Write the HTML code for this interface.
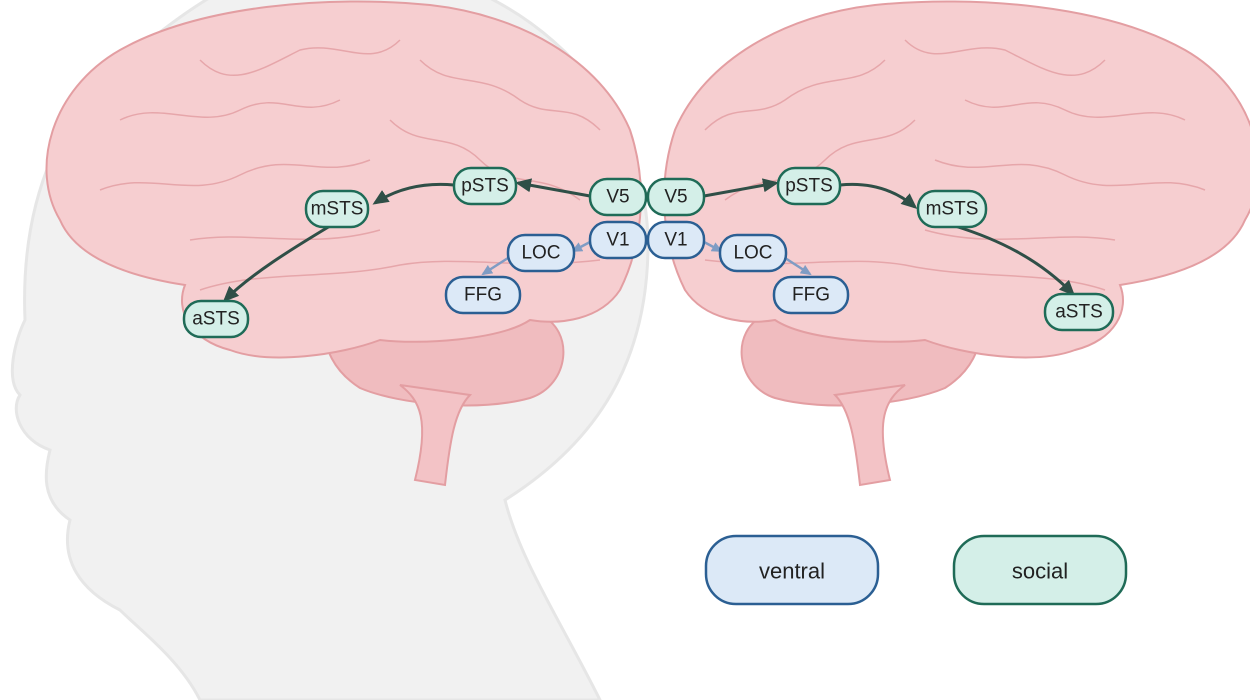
<!DOCTYPE html>
<html><head><meta charset="utf-8"><style>
html,body{margin:0;padding:0;background:#fff}
svg{display:block}
text{font-family:"Liberation Sans",sans-serif;fill:#222;text-anchor:middle;dominant-baseline:central}
</style></head><body>
<svg width="1250" height="700" viewBox="0 0 1250 700">
<defs>
<marker id="ad" markerWidth="16" markerHeight="14" refX="13" refY="7" orient="auto" markerUnits="userSpaceOnUse"><path d="M0,0 L16,7 L0,14 Z" fill="#2f4f47"/></marker>
<marker id="ab" markerWidth="11" markerHeight="10" refX="9" refY="5" orient="auto" markerUnits="userSpaceOnUse"><path d="M0,0 L11,5 L0,10 Z" fill="#7f9cc4"/></marker>
<g id="brain">
<path d="M330,330 C360,305 450,300 540,315 C575,330 570,385 530,398 C480,412 400,405 360,388 C335,372 320,345 330,330 Z" fill="#f0bcbf" stroke="#e39ea2" stroke-width="2"/>
<path d="M400,385 C420,400 430,420 415,480 L445,485 C450,440 455,410 470,395 Z" fill="#f3c3c6" stroke="#e39ea2" stroke-width="2"/>
<path d="M60,220 C30,170 50,90 120,50 C200,5 330,-5 430,5 C520,15 600,60 630,130 C650,190 640,250 620,290 C600,320 560,325 530,320 C500,340 420,345 380,340 C340,355 270,365 230,350 C190,340 175,310 185,285 C120,275 75,255 60,220 Z" fill="#f6ced0" stroke="#e39ea2" stroke-width="2"/>
<g fill="none" stroke="#e6a6aa" stroke-width="1.5">
<path d="M120,120 C160,100 200,130 240,110 C280,90 300,120 340,100"/>
<path d="M100,190 C150,170 190,200 240,175 C290,150 320,180 370,160"/>
<path d="M200,60 C230,90 260,70 300,50 C340,40 370,70 400,40"/>
<path d="M420,60 C450,90 480,70 520,100 C550,120 570,100 600,130"/>
<path d="M390,120 C420,150 450,130 480,160 C510,190 540,170 580,200"/>
<path d="M200,290 C260,270 330,280 400,265 C460,255 520,270 600,260"/>
<path d="M190,240 C250,230 310,250 380,230"/>
</g>
</g>
</defs>
<path d="M330,-40 C500,-40 650,80 648,250 C646,360 600,440 505,500 C520,560 560,620 600,700 L200,700 C180,660 140,630 120,610 C80,590 60,560 70,520 C40,500 45,470 50,450 C20,440 10,410 20,395 C5,380 15,340 25,320 C20,200 60,100 150,40 C200,0 260,-40 330,-40 Z" fill="#f1f1f1" stroke="#e6e6e6" stroke-width="3"/>
<use href="#brain"/>
<use href="#brain" transform="translate(1305,0) scale(-1,1)"/>
<g stroke-width="3" fill="none" stroke="#2f4f47">
<path d="M590,196 L518,183" marker-end="url(#ad)"/>
<path d="M454,185 C420,182 395,190 375,203" marker-end="url(#ad)"/>
<path d="M330,226 C290,250 250,275 225,300" marker-end="url(#ad)"/>
<path d="M704,196 L776,183" marker-end="url(#ad)"/>
<path d="M840,185 C870,182 895,190 915,207" marker-end="url(#ad)"/>
<path d="M955,226 C1000,240 1040,260 1073,294" marker-end="url(#ad)"/>
</g>
<g stroke-width="2.5" fill="none" stroke="#7f9cc4">
<path d="M590,242 L573,251" marker-end="url(#ab)"/>
<path d="M508,258 L483,274" marker-end="url(#ab)"/>
<path d="M704,242 L721,251" marker-end="url(#ab)"/>
<path d="M785,258 L810,274" marker-end="url(#ab)"/>
</g>
<g font-size="19">
<g fill="#d4efe8" stroke="#1f6b57" stroke-width="2.5">
<rect x="454" y="168" width="62" height="36" rx="17"/>
<rect x="306" y="191" width="62" height="36" rx="17"/>
<rect x="184" y="301" width="64" height="36" rx="17"/>
<rect x="590" y="179" width="56" height="36" rx="17"/>
<rect x="648" y="179" width="56" height="36" rx="17"/>
<rect x="778" y="168" width="62" height="36" rx="17"/>
<rect x="918" y="191" width="68" height="36" rx="17"/>
<rect x="1045" y="294" width="68" height="36" rx="17"/>
</g>
<g fill="#dce9f7" stroke="#2b5f93" stroke-width="2.5">
<rect x="590" y="222" width="56" height="36" rx="17"/>
<rect x="648" y="222" width="56" height="36" rx="17"/>
<rect x="508" y="235" width="66" height="36" rx="17"/>
<rect x="446" y="277" width="74" height="36" rx="17"/>
<rect x="720" y="235" width="66" height="36" rx="17"/>
<rect x="774" y="277" width="74" height="36" rx="17"/>
</g>
<text x="485" y="186">pSTS</text><text x="337" y="209">mSTS</text><text x="216" y="319">aSTS</text>
<text x="618" y="197">V5</text><text x="676" y="197">V5</text>
<text x="809" y="186">pSTS</text><text x="952" y="209">mSTS</text><text x="1079" y="312">aSTS</text>
<text x="618" y="240">V1</text><text x="676" y="240">V1</text>
<text x="541" y="253">LOC</text><text x="483" y="295">FFG</text>
<text x="753" y="253">LOC</text><text x="811" y="295">FFG</text>
</g>
<rect x="706" y="536" width="172" height="68" rx="30" fill="#dce9f7" stroke="#2b5f93" stroke-width="2.5"/>
<rect x="954" y="536" width="172" height="68" rx="30" fill="#d4efe8" stroke="#1f6b57" stroke-width="2.5"/>
<text x="792" y="571" font-size="22">ventral</text>
<text x="1040" y="571" font-size="22">social</text>
</svg>
</body></html>
